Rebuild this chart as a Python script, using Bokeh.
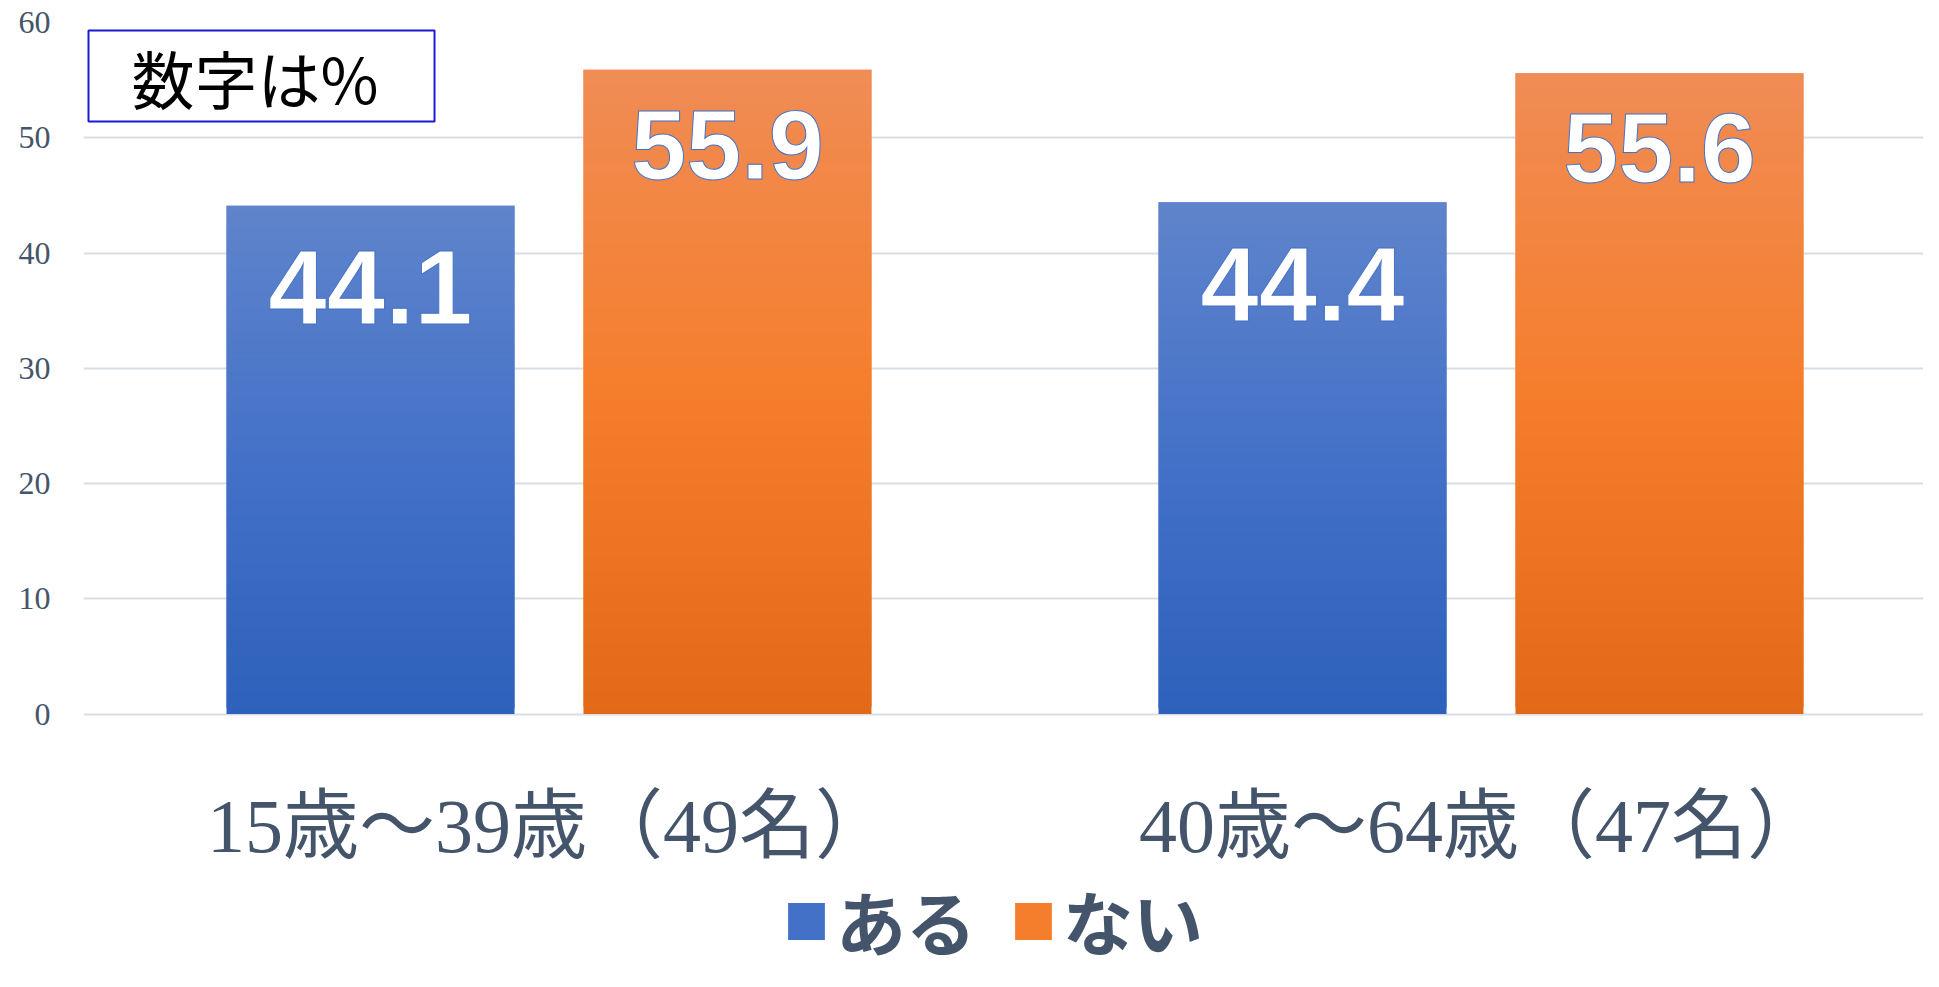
from bokeh.plotting import figure
from bokeh.models import (ColumnDataSource, Range1d, FixedTicker, Label, Legend, LegendItem,
                          LinearAxis)
from bokeh.transform import dodge
from bokeh.core.properties import value
from bokeh.embed import file_html
from bokeh.resources import INLINE

# ---------------- data ----------------
groups = ["15歳～39歳（49名）", "40歳～64歳（47名）"]
series = ["ある", "ない"]
aru = [44.1, 44.4]
nai = [55.9, 55.6]
y_ticks = [0, 10, 20, 30, 40, 50, 60]
note_text = "数字は%"

# ---------------- layout / style ----------------
W, H = 1923, 971
LEFT, TOP = 83, 22           # frame left / top (px)
ZERO_PX = 713.5              # pixel row of value 0
GROUP_PX = 932               # px per category
GROUP0_PX = 548.5            # centre of first category
TXT = "#44546A"
BLUE_STOPS = [(0.0, (0x5F, 0x84, 0xCB)), (0.5, (0x44, 0x71, 0xC8)), (1.0, (0x2D, 0x61, 0xBB))]
ORANGE_STOPS = [(0.0, (0xF0, 0x8C, 0x55)), (0.5, (0xF5, 0x7E, 0x2C)), (1.0, (0xE2, 0x69, 0x17))]
N_SLICES = 90
OFF, BW = 0.1915, 0.309

frame_h = H - TOP
ymax = y_ticks[-1]
px_per_unit = (ZERO_PX - TOP) / ymax
ymin = ymax - frame_h / px_per_unit
x0 = 0.5 - (GROUP0_PX - LEFT) / GROUP_PX
x1 = x0 + (W - LEFT) / GROUP_PX

pos = [i + 0.5 for i in range(len(groups))]


def grad_color(stops, t):
    for (t0, c0), (t1, c1) in zip(stops[:-1], stops[1:]):
        if t0 <= t <= t1:
            f = (t - t0) / (t1 - t0)
            c = [round(a + (b - a) * f) for a, b in zip(c0, c1)]
            return "#%02x%02x%02x" % tuple(c)
    return "#%02x%02x%02x" % stops[-1][1]


def slices(vals, stops):
    xs, b, t, c = [], [], [], []
    for xp, v in zip(pos, vals):
        step = v / N_SLICES
        for i in range(N_SLICES):
            xs.append(xp)
            b.append(i * step)
            t.append((i + 1) * step + (step if i < N_SLICES - 1 else 0))
            c.append(grad_color(stops, 1 - (i + 0.5) / N_SLICES))
    return ColumnDataSource(dict(x=xs, bottom=b, top=t, color=c))


p = figure(width=W, height=H, x_range=Range1d(x0, x1), y_range=Range1d(ymin, ymax),
           output_backend="svg", toolbar_location=None, x_axis_location=None,
           min_border_left=LEFT, min_border_right=0, min_border_top=TOP, min_border_bottom=0)
p.outline_line_color = None
p.background_fill_color = "white"
p.border_fill_color = "white"

# grid
p.xgrid.grid_line_color = None
p.ygrid.grid_line_color = "#D9DEE6"
p.ygrid.grid_line_width = 2
p.ygrid.ticker = FixedTicker(ticks=y_ticks)

# y axis
p.yaxis.ticker = FixedTicker(ticks=y_ticks)
p.yaxis.axis_line_color = None
p.yaxis.major_tick_line_color = None
p.yaxis.minor_tick_line_color = None
p.yaxis.major_tick_out = 0
p.yaxis.major_tick_in = 0
p.yaxis.major_label_standoff = 33
p.yaxis.major_label_text_font = "Liberation Serif"
p.yaxis.major_label_text_font_size = "32px"
p.yaxis.major_label_text_color = TXT

# x axis (category labels), drawn at value 0
xaxis = LinearAxis(ticker=FixedTicker(ticks=pos), fixed_location=0,
                   major_label_overrides={xp: g for xp, g in zip(pos, groups)})
xaxis.axis_line_color = None
xaxis.major_tick_line_color = None
xaxis.minor_tick_line_color = None
xaxis.major_tick_out = 0
xaxis.major_tick_in = 0
xaxis.major_label_standoff = 70
xaxis.major_label_text_font = "'Liberation Serif', 'Noto Sans CJK JP'"
xaxis.major_label_text_font_size = "76px"
xaxis.major_label_text_color = TXT
p.add_layout(xaxis, "below")

# bars (vertical gradient drawn as thin slices of each value)
src_a = slices(aru, BLUE_STOPS)
src_n = slices(nai, ORANGE_STOPS)
r_a = p.vbar(x=dodge("x", -OFF), width=BW, bottom="bottom", top="top",
             source=src_a, fill_color="color", line_color=None)
r_n = p.vbar(x=dodge("x", OFF), width=BW, bottom="bottom", top="top",
             source=src_n, fill_color="color", line_color=None)

# value labels
lab_a = ColumnDataSource(dict(x=pos, val=aru, txt=["%.1f" % v for v in aru]))
lab_n = ColumnDataSource(dict(x=pos, val=nai, txt=["%.1f" % v for v in nai]))
for s, o, fs, yo in ((lab_a, -OFF, "105px", 82), (lab_n, OFF, "99px", 75)):
    p.text(x=dodge("x", o), y="val", text="txt", source=s,
           text_align="center", text_baseline="middle", y_offset=yo,
           text_font=value("Liberation Sans"), text_font_style="bold",
           text_font_size=fs, text_color="white",
           text_outline_color="#4472C4")

# note box
note = Label(x=5, y=frame_h - 8, x_units="screen", y_units="screen", text=note_text,
             text_font="Noto Sans CJK JP", text_font_size="63px", text_color="black",
             text_align="left", text_baseline="top",
             border_line_color="#1A1AD0", border_line_width=2,
             background_fill_color="white", padding=(43, 56, 0, 0))
p.add_layout(note)

# legend
mid = N_SLICES // 2
legend = Legend(items=[LegendItem(label=series[0], renderers=[r_a], index=mid),
                       LegendItem(label=series[1], renderers=[r_n], index=mid)],
                location=(700, 0), orientation="horizontal",
                glyph_width=46, glyph_height=46, label_standoff=7, spacing=34,
                padding=0, margin=0, border_line_color=None, background_fill_alpha=0,
                label_text_font="Noto Sans CJK JP", label_text_font_style="bold",
                label_text_font_size="70px", label_text_color=TXT)
p.add_layout(legend, "center")

open("out.html", "w").write(file_html(p, INLINE))
